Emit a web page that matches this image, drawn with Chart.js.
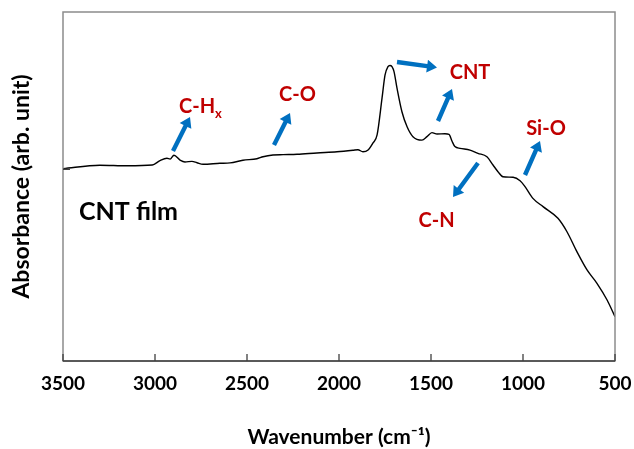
<!DOCTYPE html>
<html><head><meta charset="utf-8">
<script src="https://cdn.jsdelivr.net/npm/chart.js@4"></script>
<style>html,body{margin:0;padding:0;background:#fff;}canvas{display:block;}</style>
</head><body>
<canvas id="c" width="634" height="449"></canvas>
<script>
// ---- data ----
const wavenumbers = [3500,3300,3150,3015,2973,2935,2918,2897,2864,2837,2799,2772,2739,2647,2592,2522,2446,2413,2359,2304,2228,2120,2011,1924,1897,1870,1842,1815,1793,1766,1750,1734,1723,1712,1701,1685,1658,1630,1598,1549,1522,1495,1467,1424,1402,1386,1370,1342,1288,1245,1196,1163,1136,1109,1054,1016,989,946,891,810,761,707,652,598,543,500];
const absorbance = [1.003,1.021,1.018,1.022,1.045,1.057,1.053,1.073,1.048,1.038,1.041,1.034,1.026,1.031,1.033,1.047,1.055,1.065,1.074,1.076,1.078,1.085,1.091,1.099,1.102,1.091,1.100,1.137,1.179,1.372,1.491,1.535,1.541,1.535,1.509,1.424,1.300,1.222,1.170,1.152,1.170,1.191,1.184,1.185,1.182,1.147,1.118,1.109,1.100,1.083,1.065,1.022,0.987,0.961,0.958,0.940,0.909,0.848,0.805,0.744,0.674,0.570,0.475,0.405,0.318,0.231];
const xTickValues = [3500,3000,2500,2000,1500,1000,500];
const yTickValues = [1];
const sampleLabel = 'CNT film';
const xTitle = 'Wavenumber (cm\u207B\u00B9)';
const yTitle = 'Absorbance (arb. unit)';
const bandLabels = ['C-H','C-O','CNT','Si-O','C-N'];

const FONT = 'Lato';
const RED = '#C00000';
const BLUE = '#0070C0';

function arrow(ctx, x0, y0, x1, y1) {
  const dx = x1 - x0, dy = y1 - y0, L = Math.hypot(dx, dy);
  const ux = dx / L, uy = dy / L, nx = -uy, ny = ux;
  const head = 10, hw = 6.5, sw = 2.2;
  const bx = x1 - ux * head, by = y1 - uy * head;
  ctx.fillStyle = BLUE;
  ctx.beginPath();
  ctx.moveTo(x0 + nx * sw, y0 + ny * sw);
  ctx.lineTo(bx + nx * sw, by + ny * sw);
  ctx.lineTo(bx + nx * hw, by + ny * hw);
  ctx.lineTo(x1, y1);
  ctx.lineTo(bx - nx * hw, by - ny * hw);
  ctx.lineTo(bx - nx * sw, by - ny * sw);
  ctx.lineTo(x0 - nx * sw, y0 - ny * sw);
  ctx.closePath();
  ctx.fill();
}

const framePlugin = {
  id: 'frame',
  afterDraw(chart) {
    const {ctx, chartArea: a, scales: {x, y}} = chart;
    ctx.save();
    ctx.strokeStyle = '#8c8c8c';
    ctx.lineWidth = 1.5;
    ctx.strokeRect(a.left, a.top, a.right - a.left, a.bottom - a.top);
    ctx.strokeStyle = '#404040';
    ctx.lineWidth = 1.3;
    ctx.beginPath();
    ctx.moveTo(a.left, a.bottom); ctx.lineTo(a.right, a.bottom);
    xTickValues.forEach(v => {
      const px = x.getPixelForValue(v);
      ctx.moveTo(px, a.bottom); ctx.lineTo(px, a.bottom - 7);
    });
    yTickValues.forEach(v => {
      const py = y.getPixelForValue(v);
      ctx.moveTo(a.left, py); ctx.lineTo(a.left + 7, py);
    });
    ctx.stroke();

    // annotations
    ctx.textBaseline = 'middle';
    ctx.fillStyle = RED;
    ctx.font = `bold 20px ${FONT}`;
    ctx.textAlign = 'left';
    ctx.fillText(bandLabels[0], 179, 107);
    const w = ctx.measureText(bandLabels[0]).width;
    ctx.font = `bold 13px ${FONT}`;
    ctx.fillText('x', 179 + w, 114);
    ctx.font = `bold 20px ${FONT}`;
    ctx.textAlign = 'center';
    ctx.fillText(bandLabels[1], 297.5, 95);
    ctx.fillText(bandLabels[2], 470, 73);
    ctx.fillText(bandLabels[3], 546, 129);
    ctx.fillText(bandLabels[4], 436.5, 221);

    ctx.fillStyle = '#000';
    ctx.textAlign = 'left';
    ctx.font = `bold 25px ${FONT}`;
    ctx.fillText(sampleLabel, 79, 212);

    arrow(ctx, 173, 151, 190, 117);
    arrow(ctx, 274, 145, 290, 113);
    arrow(ctx, 397, 62, 437, 67.5);
    arrow(ctx, 438, 121, 452, 89);
    arrow(ctx, 478, 163, 453, 197);
    arrow(ctx, 525, 175, 540, 141);
    ctx.restore();
  }
};

new Chart(document.getElementById('c'), {
  type: 'line',
  data: {
    datasets: [{
      data: wavenumbers.map((w, i) => ({x: w, y: absorbance[i]})),
      borderColor: '#000',
      borderWidth: 1.4,
      pointRadius: 0,
      fill: false,
      cubicInterpolationMode: 'monotone'
    }]
  },
  options: {
    responsive: false,
    animation: false,
    devicePixelRatio: 1,
    layout: {padding: {top: 12, right: 19, left: 0, bottom: 0}},
    plugins: {legend: {display: false}, tooltip: {enabled: false}},
    scales: {
      x: {
        type: 'linear', reverse: true, min: 500, max: 3500,
        afterBuildTicks: s => { s.ticks = xTickValues.map(v => ({value: v})); },
        afterFit: s => { s.height = 88; s.paddingLeft = 0; s.paddingRight = 0; },
        grid: {display: false, drawTicks: false},
        border: {display: false},
        ticks: {font: {family: FONT, weight: 'bold', size: 19}, color: '#000', padding: 11, maxRotation: 0, autoSkip: false,
                callback: v => String(v)},
        title: {display: true, text: xTitle, color: '#000', font: {family: FONT, weight: 'bold', size: 21}, padding: {top: 0, bottom: -1}}
      },
      y: {
        min: 0, max: 1.82,
        afterFit: s => { s.width = 63; s.paddingTop = 0; s.paddingBottom = 0; },
        grid: {display: false, drawTicks: false},
        border: {display: false},
        ticks: {display: false},
        title: {display: true, text: yTitle, color: '#000', font: {family: FONT, weight: 'bold', size: 23}, padding: {top: 8, bottom: 0}}
      }
    }
  },
  plugins: [framePlugin]
});
</script>
</body></html>
